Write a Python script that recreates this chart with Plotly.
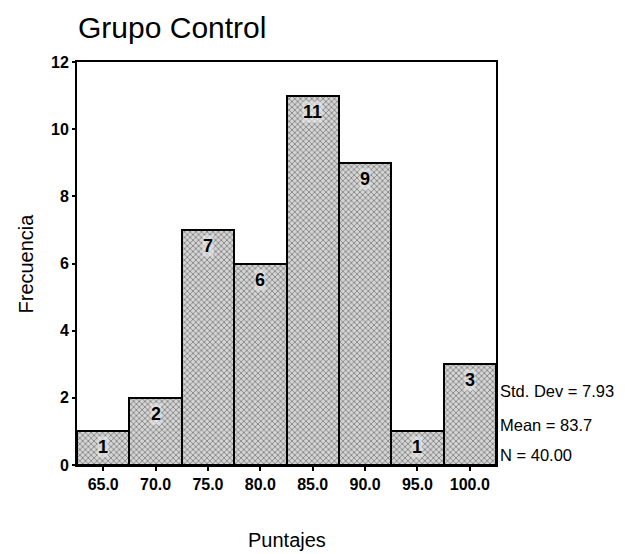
import plotly.graph_objects as go

# Data
bins = [65, 70, 75, 80, 85, 90, 95, 100]
counts = [1, 2, 7, 6, 11, 9, 1, 3]
tick_labels = ["65.0", "70.0", "75.0", "80.0", "85.0", "90.0", "95.0", "100.0"]
y_ticks = [0, 2, 4, 6, 8, 10, 12]
stats = ["Std. Dev = 7.93", "Mean = 83.7", "N = 40.00"]
stats_y = [2.2, 1.18, 0.3]

FONT = "Liberation Sans, Arial, sans-serif"
W, H = 617, 546  # page body has an 8px margin

fig = go.Figure()
fig.add_trace(go.Bar(
    x=bins, y=counts, width=5,
    marker=dict(
        color="#d4d4d4",
        line=dict(color="black", width=2),
        pattern=dict(shape="x", size=4, solidity=0.4, fgcolor="#333333"),
    ),
    hoverinfo="x+y",
))

annotations = []
for b, c in zip(bins, counts):
    annotations.append(dict(
        x=b, y=c, xref="x", yref="y", text=f"<b>{c}</b>", showarrow=False,
        yshift=-16, font=dict(family=FONT, size=18, color="black"),
        bgcolor="rgba(235,235,235,0.6)", borderpad=0,
    ))
for s, yy in zip(stats, stats_y):
    annotations.append(dict(
        x=1, y=yy, xref="paper", yref="y", text=s, showarrow=False,
        xanchor="left", yanchor="middle", xshift=2,
        font=dict(family=FONT, size=16.5, color="black"),
    ))
annotations.append(dict(
    x=0.5, y=0, xref="paper", yref="paper", text="Puntajes", showarrow=False,
    xanchor="center", yanchor="middle", yshift=-75,
    font=dict(family=FONT, size=20, color="black"),
))
annotations.append(dict(
    x=0, y=0.5, xref="paper", yref="paper", text="Frecuencia", showarrow=False,
    xanchor="center", yanchor="middle", xshift=-52, textangle=-90,
    font=dict(family=FONT, size=20, color="black"),
))

fig.update_layout(
    width=W, height=H,
    margin=dict(l=69, r=129, t=54, b=89),
    paper_bgcolor="white", plot_bgcolor="white",
    showlegend=False,
    bargap=0,
    title=dict(
        text="Grupo Control", x=70/W, xanchor="left", xref="container",
        y=1-19/H, yanchor="middle", yref="container",
        font=dict(family=FONT, size=30, color="black"),
    ),
    xaxis=dict(
        range=[62.5, 102.5], tickmode="array", tickvals=bins, ticktext=tick_labels,
        showline=True, linecolor="black", linewidth=2, mirror=True,
        ticks="outside", ticklen=4, tickwidth=2, tickcolor="black",
        showgrid=False, zeroline=False,
        tickfont=dict(family=FONT, size=16, color="black", weight="bold"),
    ),
    yaxis=dict(
        range=[0, 12], tickmode="array", tickvals=y_ticks,
        showline=True, linecolor="black", linewidth=2, mirror=True,
        ticks="outside", ticklen=3, tickwidth=2, tickcolor="black",
        showgrid=False, zeroline=False,
        tickfont=dict(family=FONT, size=16, color="black", weight="bold"),
    ),
    annotations=annotations,
)

fig.write_html("out.html")
